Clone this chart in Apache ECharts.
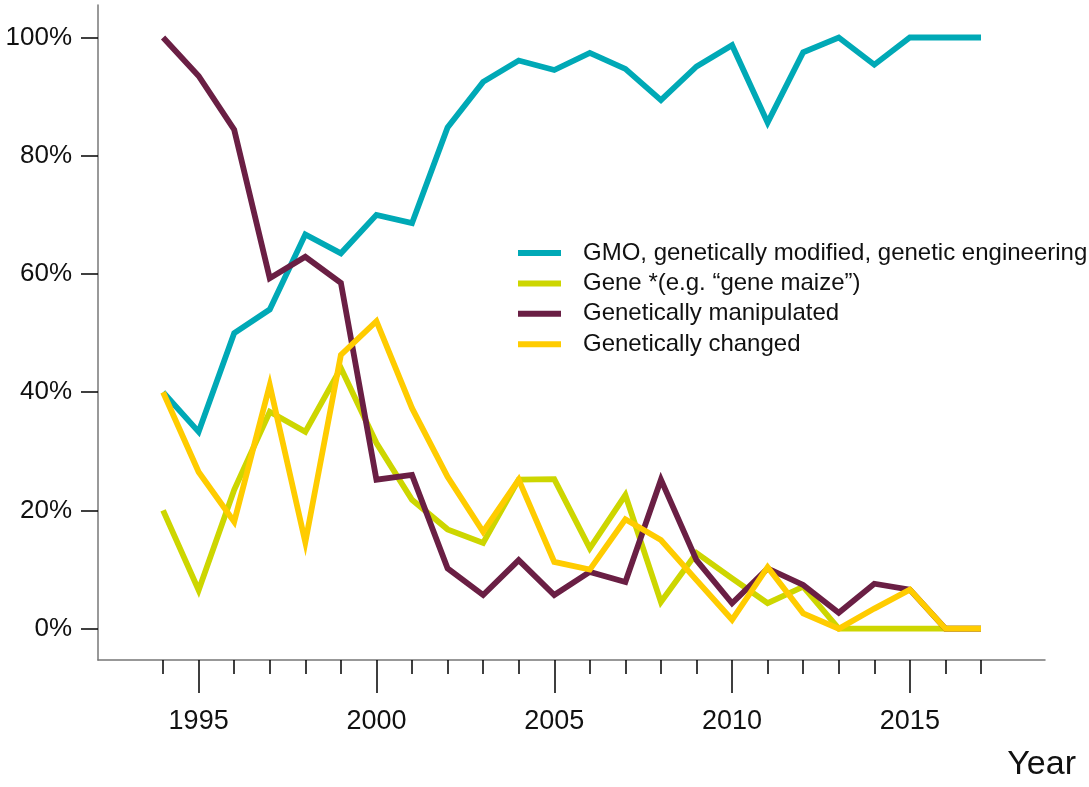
<!DOCTYPE html>
<html>
<head>
	<meta charset="utf-8">
	<title>GMO terms by year</title>
	<script src="https://cdn.jsdelivr.net/npm/echarts@6/dist/echarts.min.js"></script>
	<style type="text/css">
		body { margin: 0; background: #fff; }
		#chart_box { width: 1089px; height: 787px; }
	</style>
</head>
<body>
	<div id="chart_box"></div>
<script type="text/javascript">
	// years 1994 - 2017
	var years = [1994, 1995, 1996, 1997, 1998, 1999, 2000, 2001, 2002, 2003, 2004, 2005,
		2006, 2007, 2008, 2009, 2010, 2011, 2012, 2013, 2014, 2015, 2016, 2017];

	var gmo = [40, 33.3, 50, 54, 66.7, 63.5, 70, 68.6, 84.8, 92.5, 96.1, 94.5,
		97.4, 94.7, 89.4, 95.1, 98.7, 85.6, 97.5, 100, 95.4, 100, 100, 100];
	var gene = [20, 6.5, 23.5, 36.7, 33.3, 44.1, 31.4, 21.8, 16.8, 14.5, 25.2, 25.3,
		13.6, 22.6, 4.5, 12.8, 8.5, 4.3, 7.1, 0, 0, 0, 0, 0];
	var manipulated = [100, 93.5, 84.4, 59.3, 62.9, 58.5, 25.2, 26, 10.2, 5.7, 11.6, 5.7,
		9.6, 7.9, 25.2, 11.6, 4.3, 10.2, 7.4, 2.7, 7.6, 6.6, 0, 0];
	var changed = [40, 26.5, 18.1, 41.2, 14.6, 46.3, 52, 37.3, 25.7, 16.4, 25.2, 11.3,
		10, 18.5, 15, 8.2, 1.5, 10.4, 2.6, 0, 3.4, 6.6, 0, 0];

	var minorTicks = years;
	var majorTicks = [1995, 2000, 2005, 2010, 2015];
	var yTicks = [0, 20, 40, 60, 80, 100];

	var names = ['GMO, genetically modified, genetic engineering', 'Gene *(e.g. \u201cgene maize\u201d)',
		'Genetically manipulated', 'Genetically changed'];
	var colors = ['#00A9B6', '#CDD600', '#6A1F44', '#FFCC00'];
	var values = [gmo, gene, manipulated, changed];

	var font = '"Liberation Sans", Arial, sans-serif';

	var series = [];
	for (var i = 0; i < values.length; i++) {
		var pts = [];
		for (var j = 0; j < years.length; j++) {
			pts.push([years[j], values[i][j]]);
		}
		series.push({
			name: names[i],
			type: 'line',
			xAxisIndex: 0,
			symbol: 'none',
			lineStyle: { width: 5.8, color: colors[i], join: 'miter', cap: 'butt' },
			itemStyle: { color: colors[i] },
			data: pts
		});
	}

	var chart = echarts.init(document.getElementById('chart_box'));

	var option = {
		animation: false,
		backgroundColor: '#fff',
		grid: { left: 98, right: 44, top: 5, bottom: 127, containLabel: false, outerBoundsMode: 'none' },
		legend: {
			orient: 'vertical',
			left: 513,
			top: 236,
			icon: 'rect',
			itemWidth: 43,
			itemHeight: 6,
			itemGap: 6.4,
			selectedMode: false,
			textStyle: { fontFamily: font, fontSize: 24, lineHeight: 23, color: '#111', padding: [0, 0, 0, 17] },
			data: names
		},
		xAxis: [{
			type: 'value',
			min: 1992.17,
			max: 2018.8,
			position: 'bottom',
			splitLine: { show: false },
			axisLine: { show: true, onZero: false, lineStyle: { color: '#777', width: 1.5 } },
			axisTick: { show: true, customValues: minorTicks, length: 14, lineStyle: { color: '#000', width: 1.5 } },
			axisLabel: { show: false }
		}, {
			type: 'value',
			min: 1992.17,
			max: 2018.8,
			position: 'bottom',
			offset: 0,
			splitLine: { show: false },
			axisLine: { show: false, onZero: false },
			axisTick: { show: true, customValues: majorTicks, length: 33, lineStyle: { color: '#000', width: 1.5 } },
			axisLabel: {
				show: true, customValues: majorTicks, margin: 48,
				fontFamily: font, fontSize: 27, color: '#111',
				formatter: function (v) { return String(v); }
			}
		}],
		yAxis: {
			type: 'value',
			min: -5.3,
			max: 105.5,
			splitLine: { show: false },
			axisLine: { show: true, onZero: false, lineStyle: { color: '#777', width: 1.5 } },
			axisTick: { show: true, customValues: yTicks, length: 17, lineStyle: { color: '#000', width: 1.5 } },
			axisLabel: {
				show: true, customValues: yTicks, margin: 26,
				fontFamily: font, fontSize: 26, color: '#111',
				formatter: function (v) { return v + '%'; }
			}
		},
		graphic: [{
			type: 'text',
			right: 13,
			top: 748,
			style: { text: 'Year', fontFamily: font, fontSize: 34, fill: '#111' }
		}],
		series: series
	};

	chart.setOption(option);
</script>
</body>
</html>
